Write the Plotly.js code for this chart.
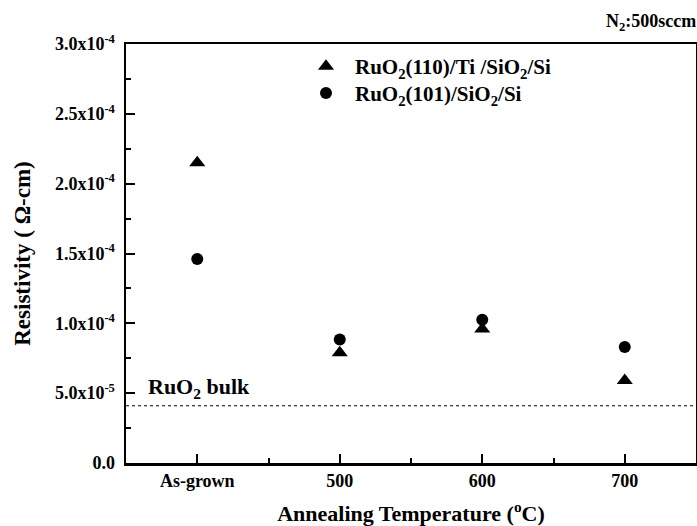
<!DOCTYPE html>
<html>
<head>
<meta charset="utf-8">
<script src="https://cdn.plot.ly/plotly-3.0.1.min.js"></script>
<style>html,body{margin:0;padding:0;background:#fff;}#chart{width:697px;height:526px;}</style>
</head>
<body>
<div id="chart"></div>
<script>
const categories = ["As-grown", "500", "600", "700"];
const ruo2_110_Ti = [2.15e-4, 0.79e-4, 0.96e-4, 0.59e-4];
const ruo2_101 = [1.46e-4, 0.885e-4, 1.025e-4, 0.83e-4];
const bulkValue = 4.1e-5;
const yTickVals = [0, 5e-5, 1e-4, 1.5e-4, 2e-4, 2.5e-4, 3e-4];
const yTickText = ["0.0", "5.0x10<sup>-5</sup>", "1.0x10<sup>-4</sup>", "1.5x10<sup>-4</sup>", "2.0x10<sup>-4</sup>", "2.5x10<sup>-4</sup>", "3.0x10<sup>-4</sup>"];
const seriesNames = ["RuO<sub>2</sub>(110)/Ti /SiO<sub>2</sub>/Si", "RuO<sub>2</sub>(101)/SiO<sub>2</sub>/Si"];

const xIdx = categories.map((_, i) => i);
const FONT = "Liberation Serif";

const traces = [
  {x: xIdx, y: ruo2_110_Ti, mode: "markers", type: "scatter", name: seriesNames[0], legend: "legend",
   marker: {symbol: "triangle-up", size: 14, color: "#000"}},
  {x: xIdx, y: ruo2_101, mode: "markers", type: "scatter", name: seriesNames[1], legend: "legend2",
   marker: {symbol: "circle", size: 12, color: "#000"}}
];

const legendStyle = (yPos) => ({x: 0.3, y: yPos, xanchor: "left", yanchor: "top", bgcolor: "rgba(0,0,0,0)", itemwidth: 48,
  font: {family: FONT, size: 21, color: "#000", weight: "bold"}});

const layout = {
  width: 697, height: 526,
  margin: {l: 126, r: 1, t: 44, b: 63},
  paper_bgcolor: "#fff", plot_bgcolor: "#fff",
  font: {family: FONT, color: "#000", size: 16, weight: "bold"},
  showlegend: true,
  legend: legendStyle(0.995),
  legend2: legendStyle(0.931),
  xaxis: {
    range: [-0.5, 3.5], tickmode: "array", tickvals: xIdx, ticktext: categories,
    ticks: "inside", ticklen: 9, tickwidth: 2, tickcolor: "#000",
    showline: true, linewidth: 2.5, linecolor: "#000", mirror: true, showgrid: false, zeroline: false,
    tickfont: {family: FONT, size: 18, weight: "bold"},
    minor: {tickmode: "linear", tick0: -0.5, dtick: 0.5, ticks: "inside", ticklen: 5, tickwidth: 2, tickcolor: "#000", showgrid: false},
    title: {text: "Annealing Temperature (<sup>o</sup>C)", font: {family: FONT, size: 22, weight: "bold"}, standoff: 16}
  },
  yaxis: {
    range: [0, 3e-4], tickmode: "array", tickvals: yTickVals, ticktext: yTickText,
    ticks: "inside", ticklen: 9, tickwidth: 2, tickcolor: "#000", ticklabelstandoff: 5,
    showline: true, linewidth: 2.5, linecolor: "#000", mirror: true, showgrid: false, zeroline: false,
    tickfont: {family: FONT, size: 18, weight: "bold"},
    minor: {tickmode: "linear", tick0: 0, dtick: 2.5e-5, ticks: "inside", ticklen: 5, tickwidth: 2, tickcolor: "#000", showgrid: false},
    title: {text: "Resistivity ( Ω-cm)", font: {family: FONT, size: 23, weight: "bold"}, standoff: 18}
  },
  shapes: [
    {type: "line", xref: "paper", x0: 0, x1: 1, yref: "y", y0: bulkValue, y1: bulkValue,
     line: {color: "#000", width: 1.2, dash: "dot"}}
  ],
  annotations: [
    {text: "RuO<sub>2</sub> bulk", xref: "paper", x: 0.035, xanchor: "left", yref: "y", y: bulkValue, yanchor: "bottom", yshift: 2,
     showarrow: false, font: {family: FONT, size: 22, weight: "bold"}},
    {text: "N<sub>2</sub>:500sccm", xref: "paper", x: 1, xanchor: "right", xshift: 2, yref: "paper", y: 1, yanchor: "bottom", yshift: 8,
     showarrow: false, font: {family: FONT, size: 18, weight: "bold"}}
  ]
};

Plotly.newPlot("chart", traces, layout, {displayModeBar: false, staticPlot: true});
</script>
</body>
</html>
